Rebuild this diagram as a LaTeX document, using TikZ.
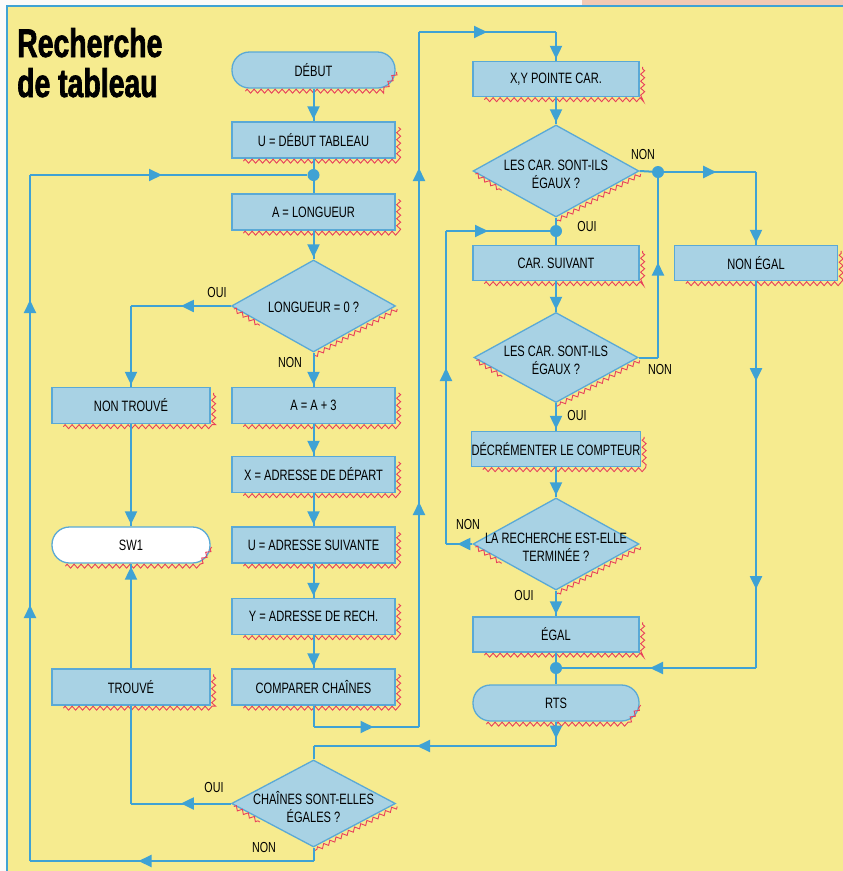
\documentclass[tikz,border=0pt]{standalone}
\usepackage{fontspec}
\setmainfont{Liberation Sans}[FakeStretch=0.74]
\newfontfamily\titlefont{Liberation Sans}[FakeStretch=0.71, BoldFeatures={FakeBold=1.6}]
\usetikzlibrary{shapes.geometric,arrows.meta,decorations.markings,decorations.pathmorphing,calc}
\definecolor{bgyellow}{HTML}{F6EB8F}
\definecolor{boxblue}{HTML}{A8D2E4}
\definecolor{lineblue}{HTML}{3FA2D4}
\definecolor{shred}{HTML}{E8405C}
\definecolor{toppink}{HTML}{F2C9B4}
\definecolor{edgeblue}{HTML}{5AA9D6}
\newcommand\boxshad[1]{\draw[shad] ([xshift=12pt,yshift=-2.5pt]#1.south west) -- ([xshift=3pt,yshift=-2.5pt]#1.south east) -- ([xshift=3pt,yshift=-6pt]#1.north east);}
\newcommand\termshad[1]{\draw[shad] ([xshift=14pt,yshift=-2.5pt]#1.south west) -- ([xshift=-12pt,yshift=-2.5pt]#1.south east) -- ([xshift=1pt,yshift=-2pt]#1.east);}
\newcommand\diashad[1]{\draw[shad] ([xshift=1pt,yshift=-3pt]#1.east) -- ([xshift=1pt,yshift=-3pt]#1.south);
  \draw[shad] ([xshift=3pt,yshift=-3pt]#1.west) -- ($([yshift=-3pt]#1.west)!0.35!([yshift=-3pt]#1.south)$);}
\begin{document}
\begin{tikzpicture}[x=1pt,y=-1pt,
  flow/.style={lineblue, line width=2pt},
  box/.style={rectangle, draw=edgeblue, line width=1.3pt, fill=boxblue, minimum width=163pt, minimum height=36pt, inner sep=0pt, font=\fontsize{15}{17}\selectfont},
  term/.style={box, rounded corners=17.5pt},
  dia/.style={diamond, draw=edgeblue, line width=1.3pt, fill=boxblue, minimum width=164pt, minimum height=92pt, inner sep=0pt},
  dtext/.style={align=center, inner sep=0pt, font=\fontsize{15}{18}\selectfont},
  lab/.style={inner sep=0pt, font=\fontsize{14.5}{16}\selectfont},
  dot/.style={circle, fill=lineblue, minimum size=12pt, inner sep=0pt},
  ar/.style={postaction={decorate, decoration={markings, mark=at position #1 with {\arrow{Triangle[length=13pt,width=12pt]}}}}},
  shad/.style={shred, line width=0.9pt, decorate, decoration={zigzag, amplitude=2pt, segment length=7pt}}
]
\useasboundingbox (0,0) rectangle (843,871);
% background
\fill[white!96!gray] (0,0) rectangle (843,871);
\fill[toppink] (582,0) rectangle (843,6);
\fill[bgyellow] (7,6) rectangle (843,871);
\draw[lineblue, line width=1.6pt] (7,871) -- (7,6) -- (843,6);

% title
\node[anchor=base west, inner sep=0pt, font=\titlefont\bfseries\fontsize{40}{40}\selectfont] (title1) at (17,57) {Recherche};
\node[anchor=base west, inner sep=0pt, font=\titlefont\bfseries\fontsize{40}{40}\selectfont] (title2) at (17,97) {de tableau};

% column 1
\node[term] (debut) at (313.5,70) {DÉBUT};
\node[box] (u1) at (313.5,140) {U = DÉBUT TABLEAU};
\node[box] (along) at (313.5,212) {A = LONGUEUR};
\node[dia] (dlong) at (313.5,306) {};
\node[dtext] (dlongt) at (313.5,307) {LONGUEUR = 0 ?};
\node[box] (aa3) at (313.5,405.5) {A = A + 3};
\node[box] (xad) at (313.5,474.5) {X = ADRESSE DE DÉPART};
\node[box] (uad) at (313.5,545) {U = ADRESSE SUIVANTE};
\node[box] (yad) at (313.5,616.5) {Y = ADRESSE DE RECH.};
\node[box] (comp) at (313.5,687) {COMPARER CHAÎNES};
\node[dia, minimum height=87pt] (dch) at (313.5,803.5) {};
\node[dtext] (dcht) at (313.5,807) {CHAÎNES SONT-ELLES\\ÉGALES ?};

% column 0
\node[box, minimum width=158pt] (nontr) at (131,405.5) {NON TROUVÉ};
\node[term, fill=white, minimum width=158pt] (sw1) at (131,545) {SW1};
\node[box, minimum width=158pt] (trouve) at (131,687) {TROUVÉ};

% column 2
\node[box, minimum width=166pt, minimum height=35pt] (xy) at (556,79) {X,Y POINTE CAR.};
\node[dia, minimum width=166pt] (d1) at (556,171) {};
\node[dtext] (d1t) at (556,174) {LES CAR. SONT-ILS\\ÉGAUX ?};
\node[box, minimum width=166pt, minimum height=35pt] (carsuiv) at (556,263) {CAR. SUIVANT};
\node[dia, minimum height=90pt] (d2) at (556,357.5) {};
\node[dtext] (d2t) at (556,360) {LES CAR. SONT-ILS\\ÉGAUX ?};
\node[box, minimum width=166pt, minimum height=35pt] (decr) at (556,449) {DÉCRÉMENTER LE COMPTEUR};
\node[dia, minimum width=166pt] (d3) at (556,544) {};
\node[dtext] (d3t) at (556,547) {LA RECHERCHE EST-ELLE\\TERMINÉE ?};
\node[box, minimum width=166pt, minimum height=35pt] (egal) at (556,634.5) {ÉGAL};
\node[term, minimum width=166pt] (rts) at (556,703) {RTS};

% column 3
\node[box, minimum height=35pt] (nonegal) at (756,263) {NON ÉGAL};

% shadows
\foreach \n in {u1,along,aa3,xad,uad,yad,comp,nontr,trouve,xy,carsuiv,decr,egal,nonegal} {\boxshad{\n}}
\foreach \n in {debut,sw1,rts} {\termshad{\n}}
\foreach \n in {dlong,dch,d1,d2,d3} {\diashad{\n}}

% junctions
\node[dot] (j1) at (313.5,175) {};
\node[dot] (j2) at (658,172) {};
\node[dot] (j3) at (556,231) {};
\node[dot] (j4) at (556,668) {};

% bend points
\coordinate (b1) at (131,306);
\coordinate (c1) at (313.5,727);
\coordinate (c2) at (419,727);
\coordinate (c3) at (419,32);
\coordinate (c4) at (556,32);
\coordinate (e1) at (756,172);
\coordinate (f1) at (658,357.5);
\coordinate (g1) at (446,544);
\coordinate (g2) at (446,231);
\coordinate (h1) at (756,668);
\coordinate (k1) at (556,746);
\coordinate (k2) at (313.5,746);
\coordinate (m1) at (131,803.5);
\coordinate (n1) at (313.5,861);
\coordinate (n2) at (30,861);
\coordinate (n3) at (30,175);

% connectors column 1
\draw[flow, ar=-2pt] (debut) -- (u1);
\draw[flow] (u1) -- (j1);
\draw[flow] (j1) -- (along);
\draw[flow, ar=-2pt] (along) -- (dlong);
\draw[flow, ar=50pt] (dlong.west) -- (b1);
\draw[flow, ar=-2pt] (b1) -- (nontr.north);
\draw[flow, ar=-2pt] (dlong.south) -- (aa3);
\draw[flow, ar=-2pt] (aa3) -- (xad);
\draw[flow, ar=-2pt] (xad) -- (uad);
\draw[flow, ar=-2pt] (uad) -- (yad);
\draw[flow, ar=-2pt] (yad) -- (comp);
\draw[flow, ar=-2pt] (nontr) -- (sw1);
\draw[flow, ar=-3pt] (trouve) -- (sw1);
\draw[flow] (comp) -- (c1);
\draw[flow, ar=60pt] (c1) -- (c2);
\draw[flow, ar=225pt, ar=559pt] (c2) -- (c3);
\draw[flow, ar=68pt] (c3) -- (c4);
\draw[flow, ar=-2pt] (c4) -- (xy);
% column 2
\draw[flow, ar=-2pt] (xy) -- (d1);
\draw[flow] (d1.east) -- (j2);
\draw[flow, ar=52pt] (j2) -- (e1);
\draw[flow, ar=-2pt] (e1) -- (nonegal.north);
\draw[flow] (d1.south) -- (j3);
\draw[flow] (j3) -- (carsuiv);
\draw[flow, ar=-2pt] (carsuiv) -- (d2);
\draw[flow] (d2.east) -- (f1);
\draw[flow, ar=95pt] (f1) -- (j2);
\draw[flow, ar=-2pt] (d2.south) -- (decr);
\draw[flow, ar=-2pt] (decr) -- (d3);
\draw[flow, ar=15pt] (d3.west) -- (g1);
\draw[flow, ar=176pt] (g1) -- (g2);
\draw[flow, ar=42pt] (g2) -- (j3);
\draw[flow, ar=-2pt] (d3.south) -- (egal);
\draw[flow] (egal) -- (j4);
\draw[flow] (j4) -- (rts);
\draw[flow, ar=100pt, ar=308pt] (nonegal.south) -- (h1);
\draw[flow, ar=106pt] (h1) -- (j4);
\draw[flow, ar=17pt] (rts.south) -- (k1);
\draw[flow, ar=139pt] (k1) -- (k2);
\draw[flow] (k2) -- (dch.north);
\draw[flow, ar=50pt] (dch.west) -- (m1);
\draw[flow] (m1) -- (trouve.south);
\draw[flow] (dch.south) -- (n1);
\draw[flow, ar=175pt] (n1) -- (n2);
\draw[flow, ar=256pt, ar=561pt] (n2) -- (n3);
\draw[flow, ar=132pt] (n3) -- (j1);

% labels
\node[lab] (l1) at (217,293) {OUI};
\node[lab] (l2) at (290,363) {NON};
\node[lab] (l3) at (643,155) {NON};
\node[lab] (l4) at (587,227) {OUI};
\node[lab] (l5) at (660,370) {NON};
\node[lab] (l6) at (577,416) {OUI};
\node[lab] (l7) at (468,525) {NON};
\node[lab] (l8) at (524,595) {OUI};
\node[lab] (l9) at (214,787) {OUI};
\node[lab] (l10) at (264,847) {NON};
\end{tikzpicture}
\end{document}
